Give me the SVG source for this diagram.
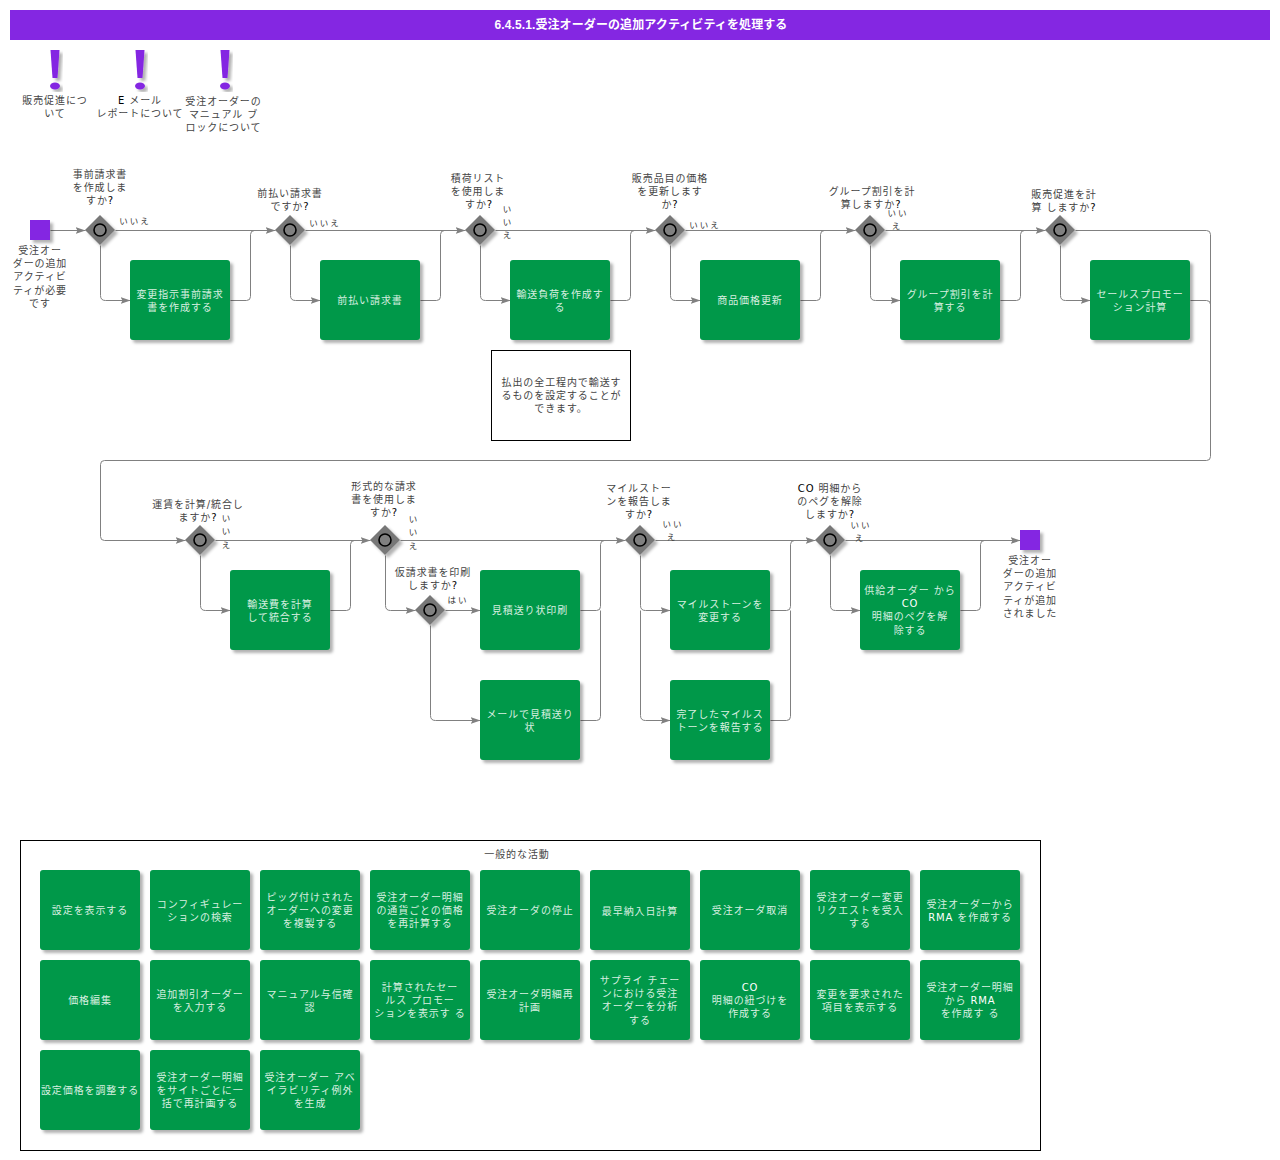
<svg xmlns="http://www.w3.org/2000/svg" width="1280" height="1160" viewBox="0 0 1280 1160">
<style>
text{font-family:"DejaVu Sans","Noto Sans CJK JP",sans-serif;font-size:10px;letter-spacing:.9px;text-anchor:middle;fill:#444}
.L{fill:#000}
.w{fill:#d8efe0}
.w .L{fill:#fff}
.s{font-size:8.500px;letter-spacing:2px;fill:#333}
.t{font-family:"Liberation Sans","Noto Sans CJK JP",sans-serif;font-size:12px;font-weight:bold;fill:#fff;letter-spacing:.1px}
.box{fill:#00984a;filter:url(#sh)}
.ev{fill:#8427e2;filter:url(#sh)}
.gw{fill:#777;filter:url(#sh)}
.c{fill:#808080;stroke:#000;stroke-width:1.600}
.fr{fill:#fff;stroke:#000;stroke-width:1}
.ln{fill:none;stroke:#808080;stroke-width:1}
</style>
<defs>
<filter id="sh" x="-20%" y="-20%" width="150%" height="150%"><feDropShadow dx="3" dy="3" stdDeviation="1.500" flood-color="#000" flood-opacity=".3"/></filter>
<marker id="a" markerUnits="userSpaceOnUse" markerWidth="11" markerHeight="8" refX="10" refY="4" orient="auto"><path d="M0 .5L10 4L0 7.500L2 4z" fill="#808080"/></marker>
<path id="ex" d="M-4.500 0H4.500L2.500 28H-2.500z"/>
</defs>
<rect width="1280" height="1160" fill="#fff"/>
<g id="header"><rect x="10" y="10" width="1260" height="30" fill="#8427e2"/><text class="t" x="641" y="29">6.4.5.1.受注オーダーの追加アクティビティを処理する</text></g>

<g id="connectors" transform="translate(.5 .5)">
<path class="ln" marker-end="url(#a)" d="M50 230H85"/>
<path class="ln" marker-end="url(#a)" d="M115 230H275"/>
<path class="ln" marker-end="url(#a)" d="M100 245V295Q100 300 105 300H130"/>
<path class="ln" d="M230 300H246Q250 300 250 296V234Q250 230 254 230H268"/>
<path class="ln" marker-end="url(#a)" d="M305 230H465"/>
<path class="ln" marker-end="url(#a)" d="M290 245V295Q290 300 295 300H320"/>
<path class="ln" d="M420 300H436Q440 300 440 296V234Q440 230 444 230H458"/>
<path class="ln" marker-end="url(#a)" d="M495 230H655"/>
<path class="ln" marker-end="url(#a)" d="M480 245V295Q480 300 485 300H510"/>
<path class="ln" d="M610 300H626Q630 300 630 296V234Q630 230 634 230H648"/>
<path class="ln" marker-end="url(#a)" d="M685 230H855"/>
<path class="ln" marker-end="url(#a)" d="M670 245V295Q670 300 675 300H700"/>
<path class="ln" d="M800 300H816Q820 300 820 296V234Q820 230 824 230H848"/>
<path class="ln" marker-end="url(#a)" d="M885 230H1045"/>
<path class="ln" marker-end="url(#a)" d="M870 245V295Q870 300 875 300H900"/>
<path class="ln" d="M1000 300H1016Q1020 300 1020 296V234Q1020 230 1024 230H1038"/>
<path class="ln" marker-end="url(#a)" d="M1060 245V295Q1060 300 1065 300H1090"/>
<path class="ln" marker-end="url(#a)" d="M1075 230H1206Q1210 230 1210 234V456Q1210 460 1206 460H104Q100 460 100 464V536Q100 540 104 540H185"/>
<path class="ln" d="M1190 300H1206Q1210 300 1210 304"/>
<path class="ln" marker-end="url(#a)" d="M215 540H370"/>
<path class="ln" marker-end="url(#a)" d="M200 555V605Q200 610 205 610H230"/>
<path class="ln" d="M330 610H346Q350 610 350 606V544Q350 540 354 540H363"/>
<path class="ln" marker-end="url(#a)" d="M400 540H625"/>
<path class="ln" marker-end="url(#a)" d="M385 555V605Q385 610 390 610H415"/>
<path class="ln" marker-end="url(#a)" d="M445 610H480"/>
<path class="ln" marker-end="url(#a)" d="M430 625V715Q430 720 435 720H480"/>
<path class="ln" d="M580 610H596Q600 610 600 606V544Q600 540 604 540H618"/>
<path class="ln" d="M580 720H596Q600 720 600 716V610"/>
<path class="ln" marker-end="url(#a)" d="M655 540H815"/>
<path class="ln" marker-end="url(#a)" d="M640 555V605Q640 610 645 610H670"/>
<path class="ln" marker-end="url(#a)" d="M640 610V715Q640 720 645 720H670"/>
<path class="ln" d="M770 610H786Q790 610 790 606V544Q790 540 794 540H808"/>
<path class="ln" d="M770 720H786Q790 720 790 716V610"/>
<path class="ln" marker-end="url(#a)" d="M845 540H1020"/>
<path class="ln" marker-end="url(#a)" d="M830 555V605Q830 610 835 610H860"/>
<path class="ln" d="M960 610H976Q980 610 980 606V544Q980 540 984 540H1010"/>
</g>

<g id="note-1"><use href="#ex" x="55" y="50" class="ev"/><ellipse class="ev" cx="55" cy="86" rx="5" ry="3.500"/><text x="55" y="104">販売促進につ</text><text x="55" y="117">いて</text></g>
<g id="note-2"><use href="#ex" x="140" y="50" class="ev"/><ellipse class="ev" cx="140" cy="86" rx="5" ry="3.500"/><text x="140" y="104"><tspan class="L">E</tspan> メール</text><text x="140" y="117">レポートについて</text></g>
<g id="note-3"><use href="#ex" x="225" y="50" class="ev"/><ellipse class="ev" cx="225" cy="86" rx="5" ry="3.500"/><text x="223.500" y="105">受注オーダーの</text><text x="223.500" y="118">マニュアル ブ</text><text x="223.500" y="131">ロックについて</text></g>

<g id="start"><rect class="ev" x="30" y="220" width="20" height="20"/><text x="40" y="254">受注オー</text><text x="40" y="267">ダーの追加</text><text x="40" y="280">アクティビ</text><text x="40" y="294">ティが必要</text><text x="40" y="307">です</text></g>

<g id="gw-1"><path class="gw" d="M100 215L115 230L100 245L85 230z"/><circle class="c" cx="100" cy="230" r="6"/><text x="100" y="178">事前請求書</text><text x="100" y="191">を作成しま</text><text x="100" y="204">すか<tspan class="L">?</tspan></text><text class="s" x="135" y="224">いいえ</text></g>
<g id="n-1"><rect class="box" x="130" y="260" width="100" height="80" rx="3"/><text class="w" x="180" y="298">変更指示事前請求</text><text class="w" x="180" y="311">書を作成する</text></g>
<g id="gw-2"><path class="gw" d="M290 215L305 230L290 245L275 230z"/><circle class="c" cx="290" cy="230" r="6"/><text x="290" y="197">前払い請求書</text><text x="290" y="210">ですか<tspan class="L">?</tspan></text><text class="s" x="325" y="226">いいえ</text></g>
<g id="n-2"><rect class="box" x="320" y="260" width="100" height="80" rx="3"/><text class="w" x="370" y="304">前払い請求書</text></g>
<g id="gw-3"><path class="gw" d="M480 215L495 230L480 245L465 230z"/><circle class="c" cx="480" cy="230" r="6"/><text x="478" y="182">積荷リスト</text><text x="478" y="195">を使用しま</text><text x="479" y="208">すか<tspan class="L">?</tspan></text><text class="s" x="508" y="212">い</text><text class="s" x="508" y="225">い</text><text class="s" x="508" y="238">え</text></g>
<g id="n-3"><rect class="box" x="510" y="260" width="100" height="80" rx="3"/><text class="w" x="560" y="298">輸送負荷を作成す</text><text class="w" x="560" y="311">る</text></g>
<g id="callout"><rect class="fr" x="491.500" y="350.500" width="139" height="90"/><text x="561.500" y="386">払出の全工程内で輸送す</text><text x="561.500" y="399">るものを設定することが</text><text x="561" y="412">できます。</text></g>
<g id="gw-4"><path class="gw" d="M670 215L685 230L670 245L655 230z"/><circle class="c" cx="670" cy="230" r="6"/><text x="670" y="182">販売品目の価格</text><text x="670" y="195">を更新します</text><text x="670" y="208">か<tspan class="L">?</tspan></text><text class="s" x="705" y="228">いいえ</text></g>
<g id="n-4"><rect class="box" x="700" y="260" width="100" height="80" rx="3"/><text class="w" x="750" y="304">商品価格更新</text></g>
<g id="gw-5"><path class="gw" d="M870 215L885 230L870 245L855 230z"/><circle class="c" cx="870" cy="230" r="6"/><text x="872" y="195">グループ割引を計</text><text x="871" y="208">算しますか<tspan class="L">?</tspan></text><text class="s" x="898" y="216">いい</text><text class="s" x="897" y="229">え</text></g>
<g id="n-5"><rect class="box" x="900" y="260" width="100" height="80" rx="3"/><text class="w" x="950" y="298">グループ割引を計</text><text class="w" x="950" y="311">算する</text></g>
<g id="gw-6"><path class="gw" d="M1060 215L1075 230L1060 245L1045 230z"/><circle class="c" cx="1060" cy="230" r="6"/><text x="1064" y="198">販売促進を計</text><text x="1064" y="211">算 しますか<tspan class="L">?</tspan></text></g>
<g id="n-6"><rect class="box" x="1090" y="260" width="100" height="80" rx="3"/><text class="w" x="1140" y="298">セールスプロモー</text><text class="w" x="1140" y="311">ション計算</text></g>

<g id="gw-7"><path class="gw" d="M200 525L215 540L200 555L185 540z"/><circle class="c" cx="200" cy="540" r="6"/><text x="198" y="508">運賃を計算/統合し</text><text x="198" y="521">ますか<tspan class="L">?</tspan></text><text class="s" x="227" y="521">い</text><text class="s" x="227" y="534">い</text><text class="s" x="227" y="548">え</text></g>
<g id="n-7"><rect class="box" x="230" y="570" width="100" height="80" rx="3"/><text class="w" x="280" y="608">輸送費を計算</text><text class="w" x="280" y="621">して統合する</text></g>
<g id="gw-8"><path class="gw" d="M385 525L400 540L385 555L370 540z"/><circle class="c" cx="385" cy="540" r="6"/><text x="384" y="490">形式的な請求</text><text x="384" y="503">書を使用しま</text><text x="384" y="516">すか<tspan class="L">?</tspan></text><text class="s" x="414" y="522">い</text><text class="s" x="414" y="535">い</text><text class="s" x="414" y="549">え</text></g>
<g id="gw-9"><path class="gw" d="M430 595L445 610L430 625L415 610z"/><circle class="c" cx="430" cy="610" r="6"/><text x="433" y="576">仮請求書を印刷</text><text x="433" y="589">しますか<tspan class="L">?</tspan></text><text class="s" x="458" y="603">はい</text></g>
<g id="n-8"><rect class="box" x="480" y="570" width="100" height="80" rx="3"/><text class="w" x="530" y="614">見積送り状印刷</text></g>
<g id="n-9"><rect class="box" x="480" y="680" width="100" height="80" rx="3"/><text class="w" x="530" y="718">メールで見積送り</text><text class="w" x="530" y="731">状</text></g>
<g id="gw-10"><path class="gw" d="M640 525L655 540L640 555L625 540z"/><circle class="c" cx="640" cy="540" r="6"/><text x="639" y="492">マイルストー</text><text x="639" y="505">ンを報告しま</text><text x="639" y="518">すか<tspan class="L">?</tspan></text><text class="s" x="673" y="527">いい</text><text class="s" x="672" y="540">え</text></g>
<g id="n-10"><rect class="box" x="670" y="570" width="100" height="80" rx="3"/><text class="w" x="720" y="608">マイルストーンを</text><text class="w" x="720" y="621">変更する</text></g>
<g id="n-11"><rect class="box" x="670" y="680" width="100" height="80" rx="3"/><text class="w" x="720" y="718">完了したマイルス</text><text class="w" x="720" y="731">トーンを報告する</text></g>
<g id="gw-11"><path class="gw" d="M830 525L845 540L830 555L815 540z"/><circle class="c" cx="830" cy="540" r="6"/><text x="830" y="492"><tspan class="L">CO</tspan> 明細から</text><text x="830" y="505">のペグを解除</text><text x="830" y="518">しますか<tspan class="L">?</tspan></text><text class="s" x="861" y="528">いい</text><text class="s" x="860" y="541">え</text></g>
<g id="n-12"><rect class="box" x="860" y="570" width="100" height="80" rx="3"/><text class="w" x="910" y="594">供給オーダー から</text><text class="w" x="910" y="607"><tspan class="L">CO</tspan></text><text class="w" x="910" y="620">明細のペグを解</text><text class="w" x="910" y="634">除する</text></g>
<g id="end"><rect class="ev" x="1020" y="530" width="20" height="20"/><text x="1030" y="564">受注オー</text><text x="1030" y="577">ダーの追加</text><text x="1030" y="590">アクティビ</text><text x="1030" y="604">ティが追加</text><text x="1030" y="617">されました</text></g>

<g id="general"><rect class="fr" x="20.500" y="840.500" width="1020" height="310"/><text x="517" y="858">一般的な活動</text></g>
<g id="a-1"><rect class="box" x="40" y="870" width="100" height="80" rx="3"/><text class="w" x="90" y="914">設定を表示する</text></g>
<g id="a-2"><rect class="box" x="150" y="870" width="100" height="80" rx="3"/><text class="w" x="200" y="908">コンフィギュレー</text><text class="w" x="200" y="921">ションの検索</text></g>
<g id="a-3"><rect class="box" x="260" y="870" width="100" height="80" rx="3"/><text class="w" x="310" y="901">ピッグ付けされた</text><text class="w" x="310" y="914">オーダーへの変更</text><text class="w" x="310" y="927">を複製する</text></g>
<g id="a-4"><rect class="box" x="370" y="870" width="100" height="80" rx="3"/><text class="w" x="420" y="901">受注オーダー明細</text><text class="w" x="420" y="914">の通貨ごとの価格</text><text class="w" x="420" y="927">を再計算する</text></g>
<g id="a-5"><rect class="box" x="480" y="870" width="100" height="80" rx="3"/><text class="w" x="530" y="914">受注オーダの停止</text></g>
<g id="a-6"><rect class="box" x="590" y="870" width="100" height="80" rx="3"/><text class="w" x="640" y="915">最早納入日計算</text></g>
<g id="a-7"><rect class="box" x="700" y="870" width="100" height="80" rx="3"/><text class="w" x="750" y="914">受注オーダ取消</text></g>
<g id="a-8"><rect class="box" x="810" y="870" width="100" height="80" rx="3"/><text class="w" x="860" y="901">受注オーダー変更</text><text class="w" x="860" y="914">リクエストを受入</text><text class="w" x="860" y="927">する</text></g>
<g id="a-9"><rect class="box" x="920" y="870" width="100" height="80" rx="3"/><text class="w" x="970" y="908">受注オーダーから</text><text class="w" x="970" y="921"><tspan class="L">RMA</tspan> を作成する</text></g>
<g id="a-10"><rect class="box" x="40" y="960" width="100" height="80" rx="3"/><text class="w" x="90" y="1004">価格編集</text></g>
<g id="a-11"><rect class="box" x="150" y="960" width="100" height="80" rx="3"/><text class="w" x="200" y="998">追加割引オーダー</text><text class="w" x="200" y="1011">を入力する</text></g>
<g id="a-12"><rect class="box" x="260" y="960" width="100" height="80" rx="3"/><text class="w" x="310" y="998">マニュアル与信確</text><text class="w" x="310" y="1011">認</text></g>
<g id="a-13"><rect class="box" x="370" y="960" width="100" height="80" rx="3"/><text class="w" x="420" y="991">計算されたセー</text><text class="w" x="420" y="1004">ルス プロモー</text><text class="w" x="420" y="1017">ションを表示す る</text></g>
<g id="a-14"><rect class="box" x="480" y="960" width="100" height="80" rx="3"/><text class="w" x="530" y="998">受注オーダ明細再</text><text class="w" x="530" y="1011">計画</text></g>
<g id="a-15"><rect class="box" x="590" y="960" width="100" height="80" rx="3"/><text class="w" x="640" y="984">サプライ チェー</text><text class="w" x="640" y="997">ンにおける受注</text><text class="w" x="640" y="1010">オーダーを分析</text><text class="w" x="640" y="1024">する</text></g>
<g id="a-16"><rect class="box" x="700" y="960" width="100" height="80" rx="3"/><text class="w" x="750" y="991"><tspan class="L">CO</tspan></text><text class="w" x="750" y="1004">明細の紐づけを</text><text class="w" x="750" y="1017">作成する</text></g>
<g id="a-17"><rect class="box" x="810" y="960" width="100" height="80" rx="3"/><text class="w" x="860" y="998">変更を要求された</text><text class="w" x="860" y="1011">項目を表示する</text></g>
<g id="a-18"><rect class="box" x="920" y="960" width="100" height="80" rx="3"/><text class="w" x="970" y="991">受注オーダー明細</text><text class="w" x="970" y="1004">から <tspan class="L">RMA</tspan></text><text class="w" x="970" y="1017">を作成す る</text></g>
<g id="a-19"><rect class="box" x="40" y="1050" width="100" height="80" rx="3"/><text class="w" x="90" y="1094">設定価格を調整する</text></g>
<g id="a-20"><rect class="box" x="150" y="1050" width="100" height="80" rx="3"/><text class="w" x="200" y="1081">受注オーダー明細</text><text class="w" x="200" y="1094">をサイトごとに一</text><text class="w" x="200" y="1107">括で再計画する</text></g>
<g id="a-21"><rect class="box" x="260" y="1050" width="100" height="80" rx="3"/><text class="w" x="310" y="1081">受注オーダー アベ</text><text class="w" x="310" y="1094">イラビリティ例外</text><text class="w" x="310" y="1107">を生成</text></g>
</svg>
